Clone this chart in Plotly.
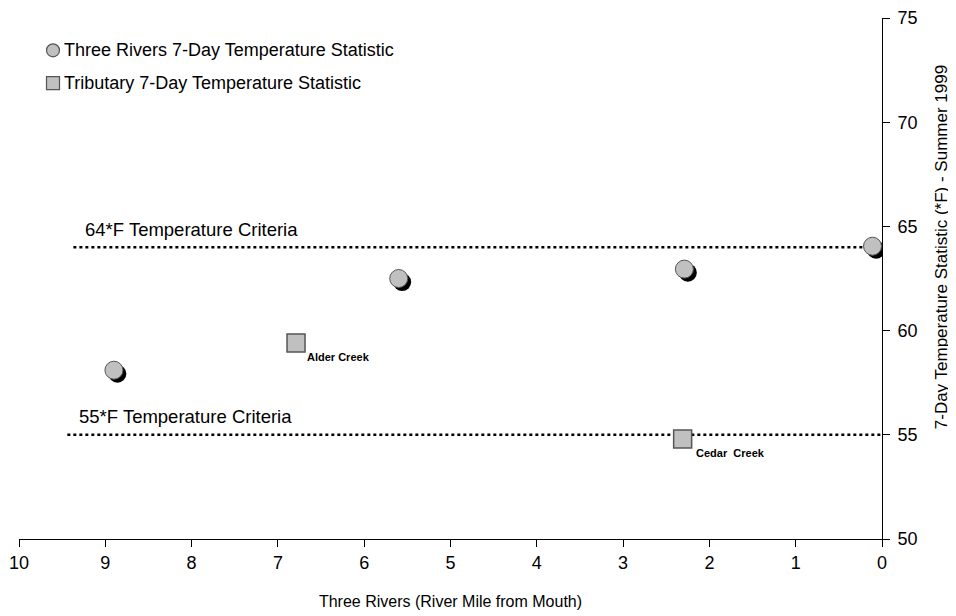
import plotly.graph_objects as go

# Data
river_mile = [8.90, 5.60, 2.29, 0.11]
river_temp = [58.1, 62.5, 62.95, 64.05]
trib_mile = [6.79, 2.31]
trib_temp = [59.4, 54.8]
trib_names = ["Alder Creek", "Cedar  Creek"]
criteria_vals = [64, 55]
criteria_start = [9.37, 9.44]
criteria_labels = ["64*F Temperature Criteria", "55*F Temperature Criteria"]
legend_names = ["Three Rivers 7-Day Temperature Statistic",
                "Tributary 7-Day Temperature Statistic"]
x_ticks = [10, 9, 8, 7, 6, 5, 4, 3, 2, 1, 0]
y_ticks = [50, 55, 60, 65, 70, 75]
y_title = "7-Day Temperature Statistic (*F) - Summer 1999"
x_title = "Three Rivers (River Mile from Mouth)"

FONT = "Liberation Sans, Arial, sans-serif"
FILL = "#c0c0c0"
EDGE = "#555555"
shadow_dx = 0.04
shadow_dy = 0.17

fig = go.Figure()

# criteria lines
for v, s in zip(criteria_vals, criteria_start):
    fig.add_trace(go.Scatter(x=[s, 0], y=[v, v], mode="lines",
                             line=dict(color="black", width=2.5, dash="dot"),
                             showlegend=False, hoverinfo="skip"))

# shadows
fig.add_trace(go.Scatter(x=[m - shadow_dx for m in river_mile],
                         y=[t - shadow_dy for t in river_temp], mode="markers",
                         marker=dict(symbol="circle", size=18, color="black"),
                         showlegend=False, hoverinfo="skip"))

fig.add_trace(go.Scatter(x=river_mile, y=river_temp, mode="markers",
                         name=legend_names[0], showlegend=False,
                         marker=dict(symbol="circle", size=18, color=FILL,
                                     line=dict(color=EDGE, width=1))))

fig.add_trace(go.Scatter(x=trib_mile, y=trib_temp, mode="markers",
                         name=legend_names[1], showlegend=False,
                         marker=dict(symbol="square", size=18, color=FILL,
                                     line=dict(color=EDGE, width=1.5))))

label_xshift = [9, 11]
for m, t, n, xs in zip(trib_mile, trib_temp, trib_names, label_xshift):
    fig.add_annotation(x=m, y=t, text="<b>" + n + "</b>", showarrow=False,
                       xanchor="left", yanchor="middle", xshift=xs, yshift=-14,
                       font=dict(size=11, color="black", family=FONT))

for v, s, lab in zip(criteria_vals, criteria_start, criteria_labels):
    fig.add_annotation(x=s, y=v, text=lab, showarrow=False,
                       xanchor="left", yanchor="middle", yshift=18, xshift=10,
                       font=dict(size=18.5, color="black", family=FONT))

# manual legend (symbol + text)
leg_x = 0.0394
leg_tx = 0.050
leg_y = [0.938, 0.875]
symbols = ["circle", "rect"]
for sym, yy, name in zip(symbols, leg_y, legend_names):
    fig.add_shape(type=sym, xref="paper", yref="paper",
                  xsizemode="pixel", ysizemode="pixel",
                  xanchor=leg_x, yanchor=yy, x0=-6.5, x1=6.5, y0=-6.5, y1=6.5,
                  fillcolor=FILL, line=dict(color=EDGE, width=1.2))
    fig.add_annotation(xref="paper", yref="paper", x=leg_tx, y=yy, text=name,
                       showarrow=False, xanchor="left", yanchor="middle",
                       font=dict(size=18, color="black", family=FONT))

# right-hand axis title
fig.add_annotation(xref="paper", yref="paper", x=1, y=0.56, text=y_title,
                   textangle=-90, showarrow=False, xanchor="center",
                   yanchor="middle", xshift=59,
                   font=dict(size=17, color="black", family=FONT))

fig.update_layout(
    width=956, height=616,
    margin=dict(l=11, r=82, t=10, b=85),
    paper_bgcolor="white", plot_bgcolor="white",
    font=dict(family=FONT, color="black"),
    showlegend=False,
    xaxis=dict(range=[10, 0], tickvals=x_ticks, ticktext=[str(v) for v in x_ticks],
               automargin=False, ticklabeloverflow="allow",
               showgrid=False, zeroline=False, showline=True, linecolor="black",
               linewidth=1, ticks="outside", ticklen=7, tickcolor="black",
               tickfont=dict(size=18),
               title=dict(text=x_title, font=dict(size=16), standoff=24)),
    yaxis=dict(range=[50, 75], tickvals=y_ticks, side="right", automargin=False,
               ticklabeloverflow="allow", ticklabelstandoff=4,
               showgrid=False, zeroline=False, showline=True, linecolor="black",
               linewidth=1, ticks="outside", ticklen=7, tickcolor="black",
               tickfont=dict(size=18)),
)

fig.write_html("out.html")
